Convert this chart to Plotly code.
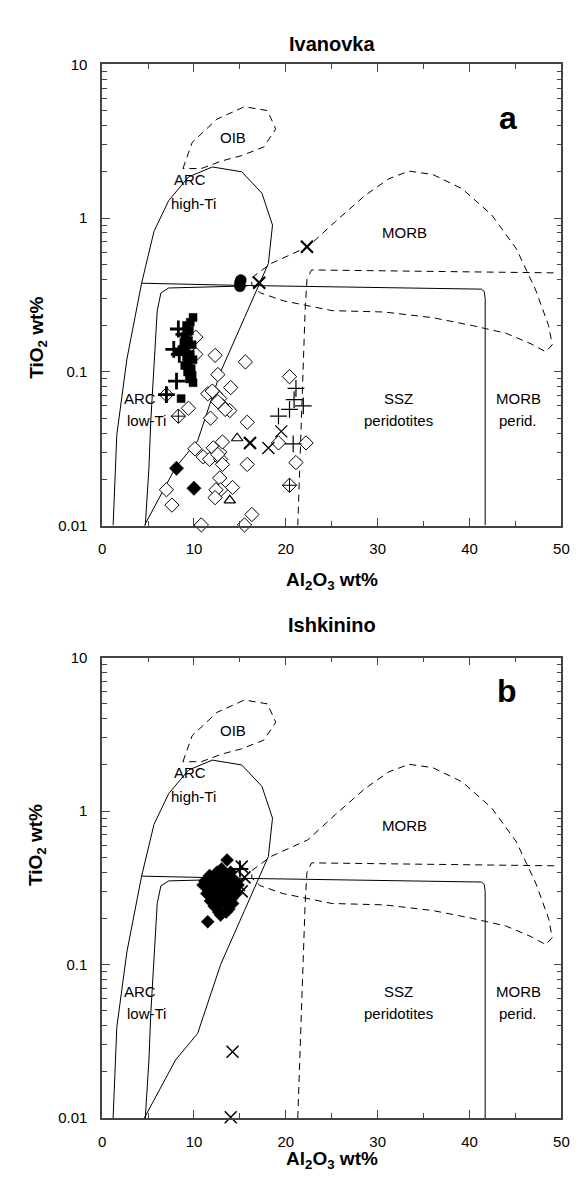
import math
import plotly.graph_objects as go

# ---------------- field boundaries (Al2O3, TiO2) ----------------
arc_x = [1.2, 1.6, 2.7, 4.3, 5.65, 7.25, 9.4, 12.0, 15.2, 17.4, 18.55, 18.1, 15.5, 12.9, 10.4, 8.0, 4.6]
arc_y = [0.01, 0.039, 0.121, 0.377, 0.82, 1.30, 1.85, 2.15, 2.0, 1.45, 0.90, 0.507, 0.225, 0.1, 0.0356, 0.0239, 0.01]

ssz_x = [4.3, 15.0, 41.3, 41.6, 41.7, 41.7]
ssz_y = [0.377, 0.365, 0.345, 0.333, 0.30, 0.01]

lowti_x = [4.7, 5.1, 5.3, 5.65, 6.0, 6.4, 7.25, 15.8]
lowti_y = [0.01, 0.0239, 0.048, 0.116, 0.25, 0.326, 0.351, 0.362]

mperid_x = [21.3, 21.7, 22.1, 22.3, 22.8, 49.4]
mperid_y = [0.01, 0.05, 0.25, 0.40, 0.46, 0.44]

morb_x = [16.3, 18.4, 22.4, 25.4, 28.6, 31.2, 33.4, 36.0, 39.2, 42.4, 45.1, 47.2, 48.6, 49.0, 48.3,
          46.7, 44.0, 40.3, 36.0, 30.7, 25.05, 22.2, 19.7, 17.2, 16.3, 16.3]
morb_y = [0.41, 0.507, 0.65, 0.95, 1.40, 1.80, 2.02, 1.92, 1.55, 1.05, 0.63, 0.34, 0.20, 0.15, 0.135,
          0.152, 0.178, 0.20, 0.225, 0.245, 0.25, 0.27, 0.29, 0.327, 0.366, 0.41]

oib_x = [8.8, 9.8, 12.5, 15.5, 18.0, 18.9, 17.6, 15.2, 13.0, 10.8, 8.8]
oib_y = [2.1, 3.1, 4.4, 5.3, 5.0, 3.8, 2.9, 2.55, 2.35, 2.1, 2.1]

# ---------------- panel a: Ivanovka ----------------
a_dia_open_x = [10.2, 10.2, 12.3, 15.6, 12.6, 14.0, 11.5, 12.3, 12.8, 13.1, 13.9, 9.4, 11.8, 15.8,
                10.1, 11.0, 11.7, 12.1, 12.8, 13.1, 12.9, 12.6, 13.1, 15.8, 12.8, 12.9, 12.4, 14.2,
                12.3, 7.0, 7.6, 10.8, 15.5, 16.3, 20.4, 22.2, 19.2, 21.1, 12.0, 12.6, 13.4]
a_dia_open_y = [0.168, 0.130, 0.128, 0.116, 0.096, 0.079, 0.072, 0.072, 0.067, 0.060, 0.056, 0.058,
                0.050, 0.047, 0.0316, 0.028, 0.027, 0.032, 0.030, 0.035, 0.027, 0.029, 0.025, 0.025,
                0.0204, 0.0171, 0.0171, 0.0177, 0.0152, 0.0171, 0.0136, 0.0101, 0.0101, 0.0118,
                0.093, 0.0345, 0.0345, 0.0257, 0.075, 0.064, 0.057]

a_sq_x = [9.9, 9.6, 9.2, 9.5, 9.0, 9.4, 9.8, 9.1, 8.7, 9.6, 9.2, 9.9, 9.4, 9.0, 9.7, 9.3, 9.8, 9.5, 9.9, 8.6, 8.3, 8.9]
a_sq_y = [0.226, 0.21, 0.20, 0.185, 0.17, 0.16, 0.15, 0.145, 0.14, 0.13, 0.125, 0.12, 0.115, 0.11,
          0.105, 0.10, 0.095, 0.09, 0.085, 0.067, 0.135, 0.155]

a_plus_bold_x = [8.3, 8.9, 7.8, 8.4, 8.1, 7.0]
a_plus_bold_y = [0.19, 0.175, 0.14, 0.13, 0.087, 0.071]

a_dia_cross_x = [7.0, 8.3, 20.4]
a_dia_cross_y = [0.071, 0.0515, 0.0183]

a_plus_thin_x = [21.1, 20.9, 21.9, 20.4, 19.2, 20.8]
a_plus_thin_y = [0.078, 0.066, 0.060, 0.057, 0.0515, 0.034]

a_dia_fill_x = [8.1, 10.0]
a_dia_fill_y = [0.0236, 0.0175]

a_tri_x = [14.7, 13.9]
a_tri_y = [0.037, 0.0146]

a_x_bold_x = [16.1, 17.1, 22.3]
a_x_bold_y = [0.0345, 0.38, 0.65]
a_x_thin_x = [18.1, 19.5]
a_x_thin_y = [0.032, 0.041]

a_circ_x = [15.0, 15.0, 15.1]
a_circ_y = [0.36, 0.38, 0.395]

# ---------------- panel b: Ishkinino ----------------
b_dia_x = [13.6, 11.5, 11.2, 11.6, 11.9, 12.1, 12.3, 12.4, 12.6, 12.8, 12.2, 12.9, 13.0, 13.2, 13.4,
           13.5, 13.7, 13.9, 14.1, 13.3, 12.7, 13.8, 14.3, 14.5, 14.0, 12.5, 11.8, 11.4, 12.0, 13.1,
           12.6, 13.6, 14.2, 12.9, 13.5, 11.7, 12.3, 14.6, 14.8, 13.0, 12.2, 11.0, 13.8]
b_dia_y = [0.48, 0.19, 0.35, 0.32, 0.28, 0.36, 0.33, 0.30, 0.27, 0.25, 0.24, 0.38, 0.34, 0.31, 0.28,
           0.36, 0.33, 0.30, 0.27, 0.25, 0.22, 0.23, 0.32, 0.35, 0.40, 0.40, 0.26, 0.29, 0.31, 0.29,
           0.34, 0.27, 0.25, 0.21, 0.22, 0.38, 0.27, 0.29, 0.33, 0.42, 0.30, 0.33, 0.38]
b_x_x = [15.2, 15.5, 14.9, 15.2, 14.2, 14.0]
b_x_y = [0.435, 0.37, 0.33, 0.30, 0.027, 0.0101]
b_plus_x = [15.0]
b_plus_y = [0.42]

# labels
field_labels = [("OIB", 14.2, 3.36), ("ARC", 9.6, 1.78), ("high-Ti", 9.9, 1.24), ("MORB", 32.9, 0.81),
                ("ARC", 4.1, 0.067), ("low-Ti", 4.8, 0.048), ("SSZ", 32.3, 0.067), ("peridotites", 32.3, 0.048),
                ("MORB", 45.3, 0.067), ("perid.", 45.3, 0.048)]

FONT = "Liberation Sans, Arial, sans-serif"
fig = go.Figure()

def add_panel(xa, ya):
    def line(xs, ys, dash=None):
        fig.add_trace(go.Scatter(x=xs, y=ys, mode="lines", xaxis=xa, yaxis=ya, hoverinfo="skip",
                                 line=dict(color="black", width=1, dash=dash), showlegend=False))
    line(arc_x, arc_y)
    line(ssz_x, ssz_y)
    line(lowti_x, lowti_y)
    line(mperid_x, mperid_y, "7px,5px")
    line(morb_x, morb_y, "7px,5px")
    line(oib_x, oib_y, "7px,5px")

def pts(xs, ys, xa, ya, symbol, size, color="black", lw=1.0, fill=None):
    fig.add_trace(go.Scatter(x=xs, y=ys, mode="markers", xaxis=xa, yaxis=ya, showlegend=False,
                             cliponaxis=False,
                             marker=dict(symbol=symbol, size=size, color=fill if fill else color,
                                         line=dict(color=color, width=lw))))

add_panel("x", "y")
add_panel("x2", "y2")

pts(a_dia_open_x, a_dia_open_y, "x", "y", "diamond", 11, lw=1, fill="white")
pts(a_sq_x, a_sq_y, "x", "y", "square", 8, lw=0.5)
pts(a_plus_bold_x, a_plus_bold_y, "x", "y", "cross-thin-open", 12, lw=2.8)
pts(a_dia_cross_x, a_dia_cross_y, "x", "y", "diamond-cross-open", 11, lw=1)
pts(a_plus_thin_x, a_plus_thin_y, "x", "y", "cross-thin-open", 12, lw=1.2)
pts(a_dia_fill_x, a_dia_fill_y, "x", "y", "diamond", 11, lw=0.5)
pts(a_tri_x, a_tri_y, "x", "y", "triangle-up-open", 10, lw=1.2)
pts(a_x_bold_x, a_x_bold_y, "x", "y", "x-thin-open", 12, lw=2.2)
pts(a_x_thin_x, a_x_thin_y, "x", "y", "x-thin-open", 12, lw=1.3)
pts(a_circ_x, a_circ_y, "x", "y", "circle", 11, lw=0.5)

pts(b_dia_x, b_dia_y, "x2", "y2", "diamond", 10, lw=0.5)
pts(b_x_x, b_x_y, "x2", "y2", "x-thin-open", 12, lw=1.5)
pts(b_plus_x, b_plus_y, "x2", "y2", "cross-thin-open", 12, lw=2)

xd = [92 / 582, 561 / 582]
yda = [1 - 516 / 1187, 1 - 48 / 1187]
ydb = [1 - 1117 / 1187, 1 - 650 / 1187]

minor_vals = [m * 10 ** e for e in (-2, -1, 0) for m in range(2, 10)]
axcol = "#444444"
xax = dict(domain=xd, range=[0, 50], showgrid=False, zeroline=False, showline=True, linecolor=axcol,
           linewidth=1.5, mirror="allticks", ticks="inside", ticklen=8, tickwidth=1, tickcolor=axcol,
           dtick=10, tick0=0, ticklabelstandoff=9, tickfont=dict(family=FONT, size=15, color="black"),
           minor=dict(ticks="inside", ticklen=5, dtick=5, tick0=0, tickcolor=axcol, showgrid=False))
yax = dict(type="log", range=[-2, 1], showgrid=False, zeroline=False, showline=True, linecolor=axcol,
           linewidth=1.5, mirror="allticks", ticks="inside", ticklen=8, tickwidth=1, tickcolor=axcol,
           tickmode="array", tickvals=[0.01, 0.1, 1, 10], ticktext=["0.01", "0.1", "1", "10"],
           ticklabelstandoff=10, tickfont=dict(family=FONT, size=15, color="black"),
           minor=dict(ticks="inside", ticklen=5, tickmode="array", tickvals=minor_vals,
                      tickcolor=axcol, showgrid=False))

fig.update_layout(
    width=582, height=1187, margin=dict(l=0, r=0, t=0, b=0),
    paper_bgcolor="white", plot_bgcolor="white", showlegend=False,
    xaxis=dict(xax, anchor="y"), yaxis=dict(yax, domain=yda, anchor="x"),
    xaxis2=dict(xax, anchor="y2"), yaxis2=dict(yax, domain=ydb, anchor="x2"),
)

ann = []
for (xa, ya, off) in (("x", "y", 0), ("x2", "y2", 602)):
    for (t, x, y) in field_labels:
        ann.append(dict(text=t, x=x, y=math.log10(y), xref=xa, yref=ya, showarrow=False,
                        font=dict(family=FONT, size=15, color="black")))
    ann.append(dict(text="<b>Al<sub>2</sub>O<sub>3</sub> wt%</b>", x=326.5 / 582, y=1 - (572 + off) / 1187,
                    xref="paper", yref="paper", showarrow=False,
                    font=dict(family=FONT, size=19, color="black")))
    ann.append(dict(text="<b>TiO<sub>2</sub> wt%</b>", x=12 / 582, y=1 - (282 + off) / 1187,
                    xref="paper", yref="paper", showarrow=False, textangle=-90,
                    font=dict(family=FONT, size=19, color="black")))
ann.append(dict(text="<b>Ivanovka</b>", x=326.5 / 582, y=1 - 14 / 1187, xref="paper", yref="paper",
                showarrow=False, font=dict(family=FONT, size=20, color="black")))
ann.append(dict(text="<b>Ishkinino</b>", x=326.5 / 582, y=1 - 617 / 1187, xref="paper", yref="paper",
                showarrow=False, font=dict(family=FONT, size=20, color="black")))
ann.append(dict(text="<b>a</b>", x=518 / 582, y=1 - 82 / 1187, xref="paper", yref="paper",
                showarrow=False, font=dict(family=FONT, size=32, color="black")))
ann.append(dict(text="<b>b</b>", x=518 / 582, y=1 - 684 / 1187, xref="paper", yref="paper",
                showarrow=False, font=dict(family=FONT, size=32, color="black")))
fig.update_layout(annotations=ann)

fig.write_html("out.html")
